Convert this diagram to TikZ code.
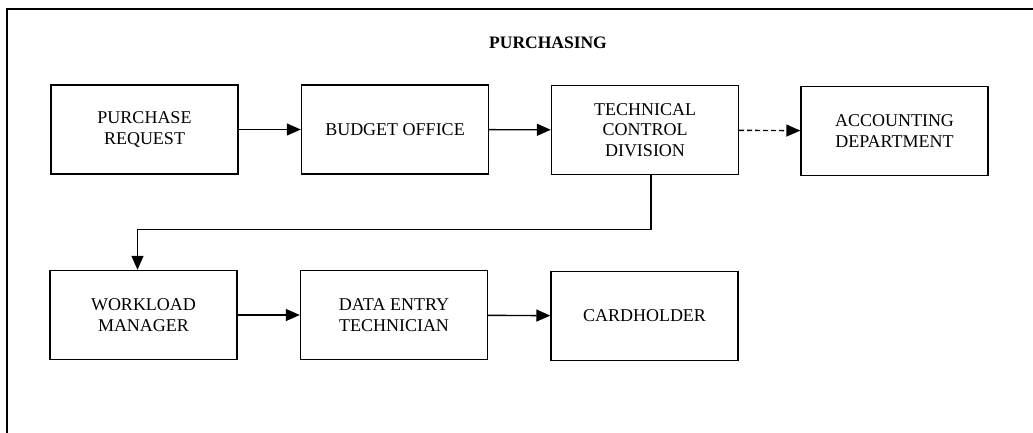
\documentclass[tikz,border=0pt]{standalone}
\usepackage{fontspec}
\setmainfont{Liberation Serif}
\usetikzlibrary{arrows.meta}

\begin{document}
\begin{tikzpicture}[x = 1pt, y = -1pt, boxstyle/.style={draw,line width=1.4pt,minimum width=187pt,minimum height=89pt,align=center,inner sep=2pt,font=\fontsize{18}{20.5}\selectfont},
    flowstyle/.style={line width=1.4pt,-{Triangle[length=14pt,width=12pt]}}]
    \useasboundingbox (0,0) rectangle (1033,433);
    \draw[line width=1.2pt] (1040,9) -- (7,9) -- (7,440);
    \node[font=\fontsize{17.5}{20}\selectfont\bfseries] (title) at (548,43) {PURCHASING};
    \node[boxstyle] (preq) at (144.5,129.5) {PURCHASE\\REQUEST};
    \node[boxstyle] (budget) at (395,129.5) {BUDGET OFFICE};
    \node[boxstyle] (tcd) at (645,130) {TECHNICAL\\CONTROL\\DIVISION};
    \node[boxstyle] (acct) at (894.5,131) {ACCOUNTING\\DEPARTMENT};
    \node[boxstyle] (wm) at (143.5,315) {WORKLOAD\\MANAGER};
    \node[boxstyle] (det) at (394,315) {DATA ENTRY\\TECHNICIAN};
    \node[boxstyle] (card) at (644.5,316) {CARDHOLDER};
    \draw[flowstyle] (preq) -- (budget);
    \draw[flowstyle] (budget) -- (tcd);
    \draw[flowstyle,dash pattern=on 5pt off 3pt] (tcd) -- (acct);
    \draw[flowstyle] ([xshift=6pt]tcd.south) -- ++(0,54) -| ([xshift=-6pt]wm.north);
    \draw[flowstyle] (wm) -- (det);
    \draw[flowstyle] (det) -- (card);
\end{tikzpicture}
\end{document}
